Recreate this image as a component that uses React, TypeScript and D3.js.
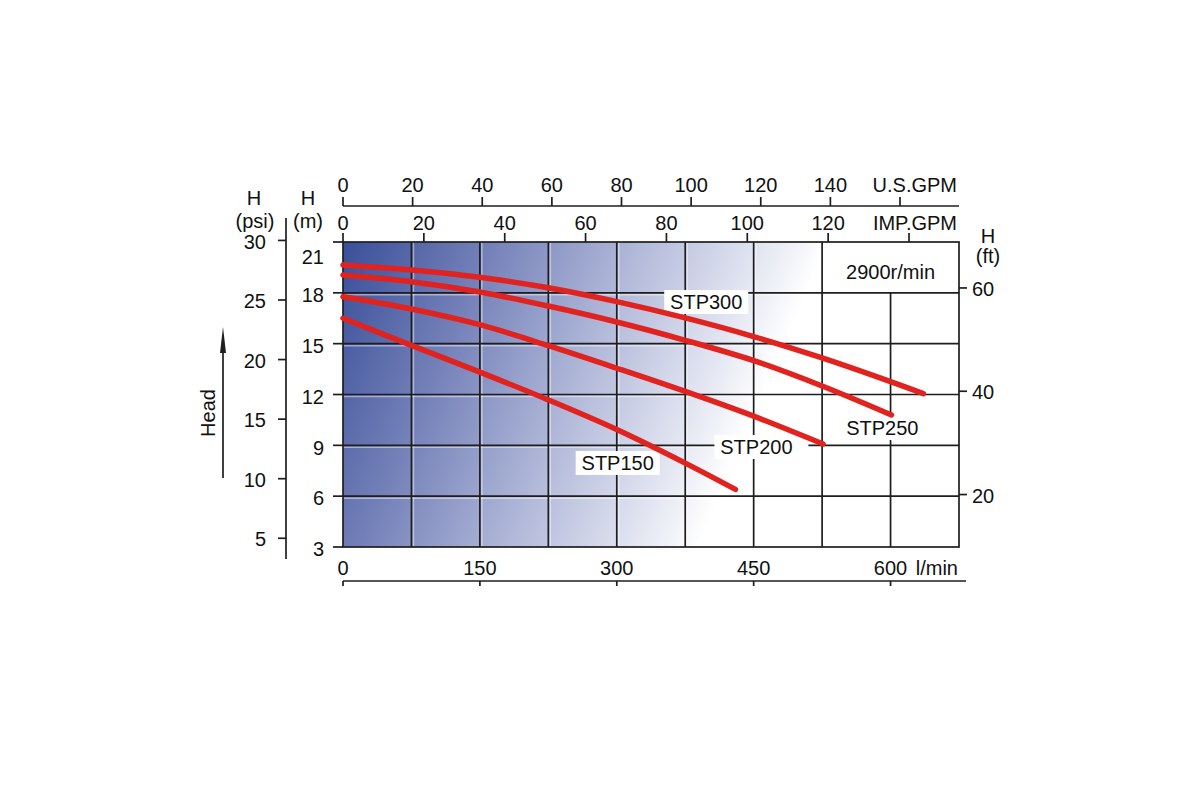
import React from 'react';
import { scaleLinear, line, curveCatmullRom, range } from 'd3';

// flow (l/min) and head (m)
const stp300Flow = [0, 75, 150, 225, 300, 375, 450, 525, 600, 636];
const stp300Head = [19.64, 19.35, 18.92, 18.3, 17.48, 16.52, 15.42, 14.16, 12.76, 12.05];
const stp250Flow = [0, 75, 150, 225, 300, 375, 450, 525, 601];
const stp250Head = [19.05, 18.66, 18.05, 17.22, 16.28, 15.2, 14.0, 12.5, 10.79];
const stp200Flow = [0, 75, 150, 225, 300, 375, 450, 526];
const stp200Head = [17.77, 17.05, 16.12, 14.88, 13.55, 12.18, 10.72, 9.08];
const stp150Flow = [0, 75, 150, 225, 300, 375, 430];
const stp150Head = [16.5, 14.9, 13.32, 11.68, 9.93, 7.95, 6.4];

const seriesNames = ['STP300', 'STP250', 'STP200', 'STP150'];
// label anchors in (l/min, m)
const labelFlow = [398, 591, 453, 301];
const labelHead = [17.46, 10.02, 8.9, 7.96];

const lpmTicks = [0, 150, 300, 450, 600];
const usGpmTicks = [0, 20, 40, 60, 80, 100, 120, 140];
const impGpmTicks = [0, 20, 40, 60, 80, 100, 120];
const meterTicks = [3, 6, 9, 12, 15, 18, 21];
const psiTicks = [5, 10, 15, 20, 25, 30];
const ftTicks = [20, 40, 60];

const PSI_TO_M = 0.7031;
const FT_TO_M = 0.3048;

const font = '"Liberation Sans", Arial, sans-serif';
const red = '#e0231f';
const ink = '#1e1e1e';
const fs = 20;

const x = scaleLinear().domain([0, 675]).range([343, 959]);
const y = scaleLinear().domain([3, 21]).range([547, 242]);
const xUS = scaleLinear().domain([0, 160]).range([343, 900]);
const xIMP = scaleLinear().domain([0, 140]).range([343, 909]);

const App: React.FC = () => {
  const series = [
    { flow: stp300Flow, head: stp300Head },
    { flow: stp250Flow, head: stp250Head },
    { flow: stp200Flow, head: stp200Head },
    { flow: stp150Flow, head: stp150Head },
  ];
  const path = line<[number, number]>()
    .x(d => x(d[0]))
    .y(d => y(d[1]))
    .curve(curveCatmullRom.alpha(0.5));

  const [x0, x1] = x.range();
  const [yb, yt] = y.range();
  const gridX = range(75, 675, 75);
  const gridY = range(6, 21, 3);

  return (
    <svg width={1200} height={800} style={{ position: 'absolute', left: 0, top: 0 }} fontFamily={font}>
      <defs>
        <linearGradient id="bg" gradientUnits="userSpaceOnUse" x1={x0} y1={yt} x2={x0 + 410} y2={yt + 175}>
          <stop offset="0" stopColor="#3a4f9a" />
          <stop offset="0.3" stopColor="#7380b8" />
          <stop offset="0.62" stopColor="#b3bada" />
          <stop offset="0.85" stopColor="#dfe2f0" />
          <stop offset="1" stopColor="#ffffff" />
        </linearGradient>
      </defs>
      <rect width={1200} height={800} fill="#fff" />
      <rect x={x0} y={yt} width={x1 - x0} height={yb - yt} fill="url(#bg)" />

      {/* light highlights beside grid lines */}
      <g stroke="#fff" strokeOpacity={0.45} strokeWidth={1.5}>
        {gridX.map(v => <line key={v} x1={x(v) + 2} x2={x(v) + 2} y1={yt} y2={yb} />)}
        {gridY.map(v => <line key={v} x1={x0} x2={x1} y1={y(v) + 2} y2={y(v) + 2} />)}
      </g>

      {/* grid */}
      <g stroke={ink} strokeWidth={1.7}>
        {gridX.map(v => (
          <line key={v} x1={x(v)} x2={x(v)} y1={v === 600 ? y(18) : yt} y2={yb} />
        ))}
        {gridY.map(v => <line key={v} x1={x0} x2={x1} y1={y(v)} y2={y(v)} />)}
        <rect x={x0} y={yt} width={x1 - x0} height={yb - yt} fill="none" />
      </g>

      {/* curve labels with white boxes */}
      {seriesNames.map((n, i) => (
        <g key={n} transform={`translate(${x(labelFlow[i])},${y(labelHead[i])})`}>
          <rect x={-42} y={-12} width={n === 'STP200' ? 94 : 84} height={24} fill="#fff" />
          <text textAnchor="middle" dy="0.36em" fontSize={fs} fill="#111">{n}</text>
        </g>
      ))}

      {/* curves */}
      {series.map((s, i) => (
        <path
          key={seriesNames[i]}
          d={path(s.flow.map((f, j) => [f, s.head[j]] as [number, number])) ?? ''}
          fill="none"
          stroke={red}
          strokeWidth={5.5}
          strokeLinecap="round"
        />
      ))}

      <text x={x(600)} y={(y(21) + y(18)) / 2 + 4} dy="0.36em" textAnchor="middle" fontSize={fs} fill="#111">2900r/min</text>

      {/* left metre axis */}
      <g fontSize={fs} fill="#111" textAnchor="end">
        {meterTicks.map(v => (
          <g key={v}>
            <line x1={x0 - 10} x2={x0} y1={y(v)} y2={y(v)} stroke={ink} strokeWidth={1.7} />
            <text x={324} y={y(v) + (v === 21 ? 15 : 2)} dy="0.36em">{v}</text>
          </g>
        ))}
      </g>
      <text x={308} y={198} dy="0.36em" textAnchor="middle" fontSize={fs} fill="#111">H</text>
      <text x={308} y={221} dy="0.36em" textAnchor="middle" fontSize={fs} fill="#111">(m)</text>

      {/* psi axis */}
      <line x1={286} x2={286} y1={218} y2={559} stroke={ink} strokeWidth={1.7} />
      <g fontSize={fs} fill="#111" textAnchor="end">
        {psiTicks.map(v => (
          <g key={v}>
            <line x1={278} x2={286} y1={y(v * PSI_TO_M)} y2={y(v * PSI_TO_M)} stroke={ink} strokeWidth={1.7} />
            <text x={266} y={y(v * PSI_TO_M) + 1} dy="0.36em">{v}</text>
          </g>
        ))}
      </g>
      <text x={254} y={198} dy="0.36em" textAnchor="middle" fontSize={fs} fill="#111">H</text>
      <text x={255} y={221} dy="0.36em" textAnchor="middle" fontSize={fs} fill="#111">(psi)</text>

      {/* Head arrow */}
      <line x1={223} x2={223} y1={478} y2={345} stroke={ink} strokeWidth={1.7} />
      <path d="M223,327 L226,353 L220,353 Z" fill={ink} />
      <text transform="translate(208,413) rotate(-90)" dy="0.36em" textAnchor="middle" fontSize={fs} fill="#111">Head</text>

      {/* right ft axis */}
      <g fontSize={fs} fill="#111">
        {ftTicks.map(v => (
          <g key={v}>
            <line x1={x1} x2={x1 + 8} y1={y(v * FT_TO_M)} y2={y(v * FT_TO_M)} stroke={ink} strokeWidth={1.7} />
            <text x={972} y={y(v * FT_TO_M) + 1} dy="0.36em">{v}</text>
          </g>
        ))}
      </g>
      <text x={988} y={236} dy="0.36em" textAnchor="middle" fontSize={fs} fill="#111">H</text>
      <text x={988} y={256} dy="0.36em" textAnchor="middle" fontSize={fs} fill="#111">(ft)</text>

      {/* IMP.GPM axis (on plot top) */}
      <g fontSize={fs} fill="#111" textAnchor="middle">
        {impGpmTicks.map(v => (
          <g key={v}>
            <line x1={xIMP(v)} x2={xIMP(v)} y1={yt} y2={yt - 9} stroke={ink} strokeWidth={1.7} />
            <text x={xIMP(v)} y={223} dy="0.36em">{v}</text>
          </g>
        ))}
        <line x1={xIMP(140)} x2={xIMP(140)} y1={yt} y2={yt - 9} stroke={ink} strokeWidth={1.7} />
        <text x={957} y={223} dy="0.36em" textAnchor="end">IMP.GPM</text>
      </g>

      {/* U.S.GPM axis */}
      <g fontSize={fs} fill="#111" textAnchor="middle">
        <line x1={xUS(0)} x2={x1} y1={206} y2={206} stroke={ink} strokeWidth={1.7} />
        {usGpmTicks.map(v => (
          <g key={v}>
            <line x1={xUS(v)} x2={xUS(v)} y1={206} y2={197} stroke={ink} strokeWidth={1.7} />
            <text x={xUS(v)} y={185} dy="0.36em">{v}</text>
          </g>
        ))}
        <line x1={xUS(160)} x2={xUS(160)} y1={206} y2={197} stroke={ink} strokeWidth={1.7} />
        <text x={957} y={185} dy="0.36em" textAnchor="end">U.S.GPM</text>
      </g>

      {/* l/min axis */}
      <g fontSize={fs} fill="#111" textAnchor="middle">
        <line x1={x0} x2={966} y1={581} y2={581} stroke={ink} strokeWidth={1.7} />
        {lpmTicks.map(v => (
          <g key={v}>
            <line x1={x(v)} x2={x(v)} y1={581} y2={586} stroke={ink} strokeWidth={1.7} />
            <text x={x(v)} y={568} dy="0.36em">{v}</text>
          </g>
        ))}
        <text x={958} y={568} dy="0.36em" textAnchor="end">l/min</text>
      </g>
    </svg>
  );
};

export default App;
